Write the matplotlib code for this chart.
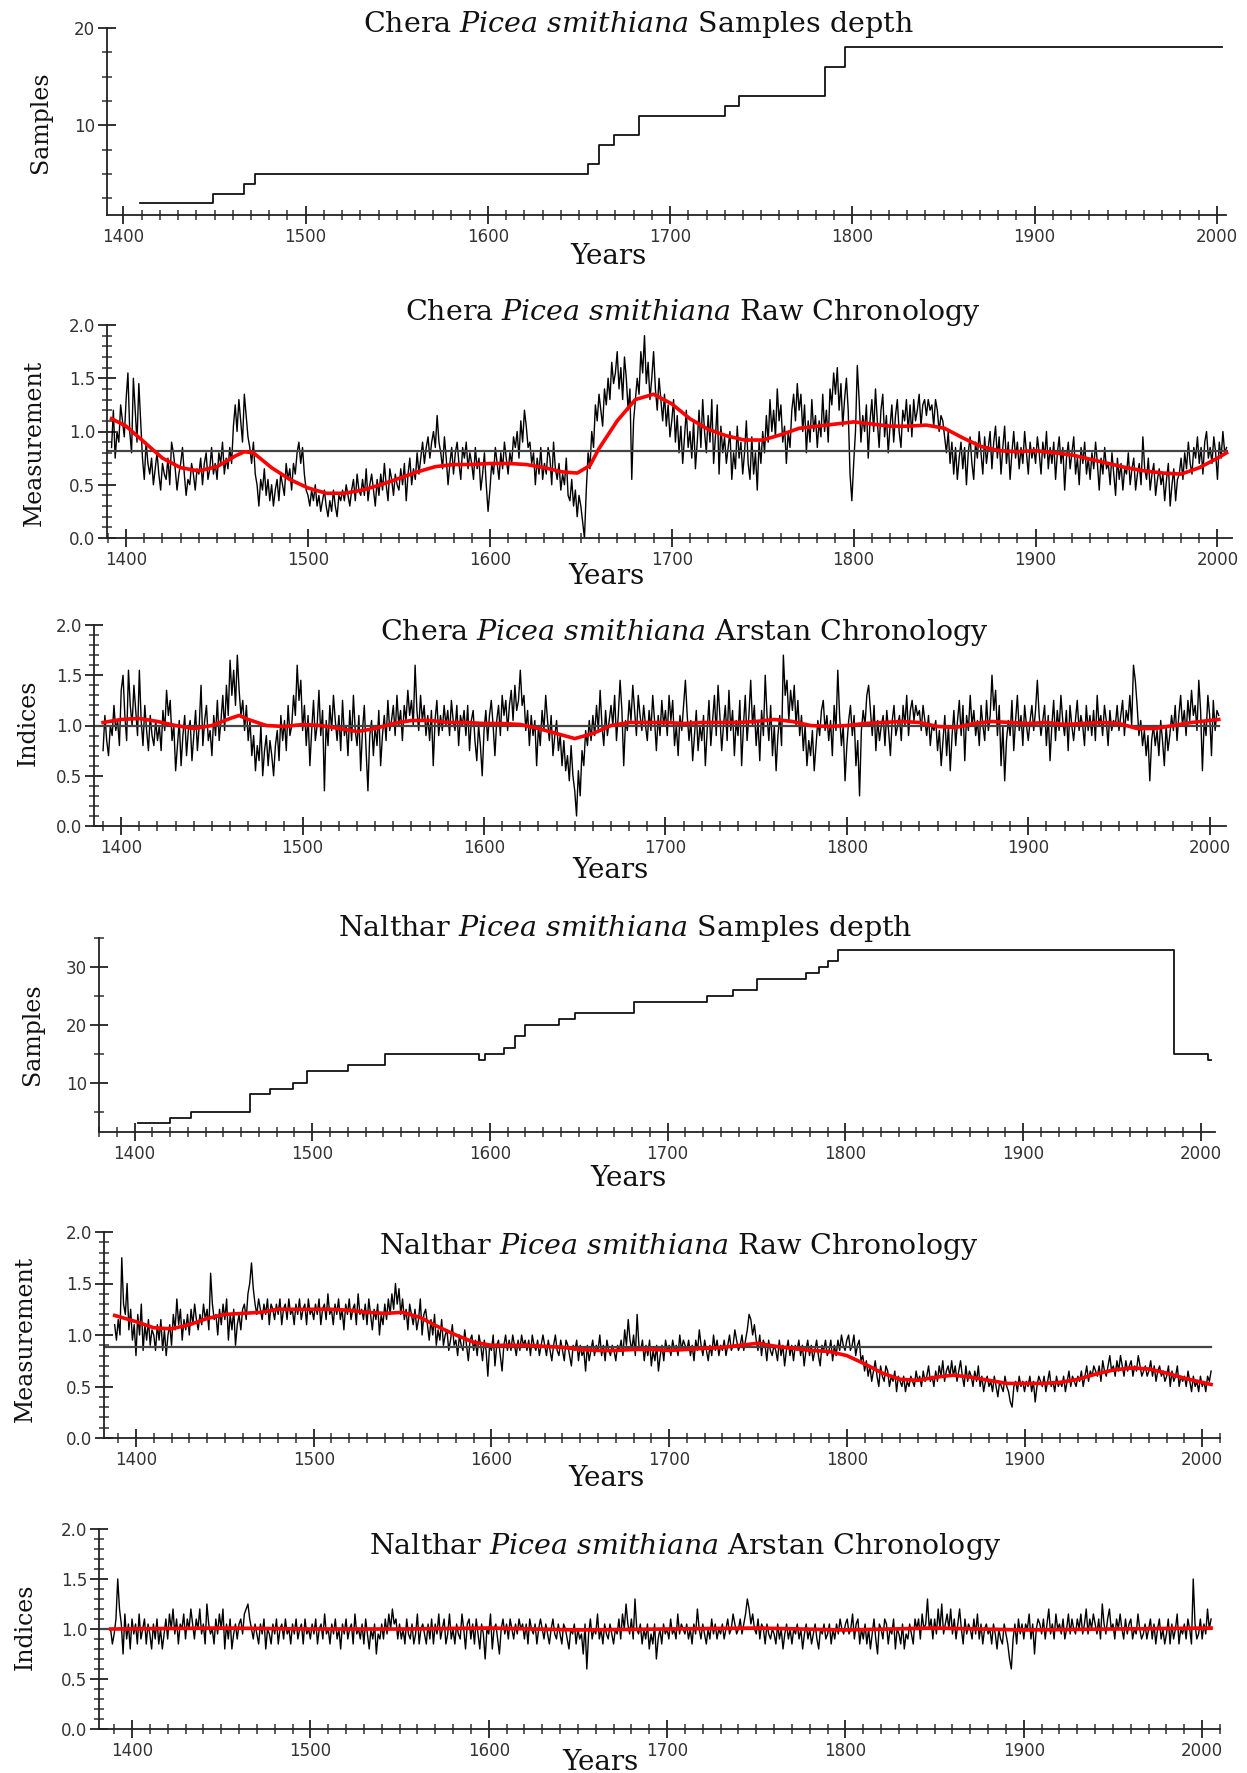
import numpy as np
import matplotlib
matplotlib.use("Agg")
import matplotlib.pyplot as plt
from matplotlib.ticker import MultipleLocator

plt.rcParams['font.family'] = ['DejaVu Sans']
plt.rcParams['mathtext.fontset'] = 'custom'
plt.rcParams['mathtext.rm'] = 'DejaVu Serif'
plt.rcParams['mathtext.it'] = 'DejaVu Serif:italic'

# ---- sample depth (step series) ----
chera_step_years = [1409, 1449, 1466, 1472, 1655, 1661, 1669, 1683, 1730, 1738, 1785, 1796, 2003]
chera_step_vals = [2, 3, 4, 5, 6, 8, 9, 11, 12, 13, 16, 18, 18]

nalthar_step_years = [1402, 1420, 1432, 1465, 1476, 1489, 1497, 1520, 1541, 1594, 1597, 1608, 1614,
                      1620, 1639, 1648, 1681, 1722, 1737, 1750, 1778, 1785, 1790, 1796, 1985, 2004, 2006]
nalthar_step_vals = [3, 4, 5, 8, 9, 10, 12, 13, 15, 14, 15, 16, 18,
                     20, 21, 22, 24, 25, 26, 28, 29, 30, 31, 33, 15, 14, 14]

# ---- Chera raw chronology (1392-2005) ----
chera_raw_years = list(range(1392, 2006))
chera_raw = [
    0.85, 1.2, 0.75, 1.0, 0.9, 1.25, 1.1, 0.95,
    1.3, 1.55, 1.0, 0.8, 1.5, 1.2, 0.9, 1.45, 1.1, 0.75,
    0.55, 0.9, 0.7, 0.6, 0.75, 0.5, 0.65, 0.8, 0.6, 0.45,
    0.7, 0.6, 0.55, 0.75, 0.5, 0.9, 0.8, 0.65, 0.45, 0.6,
    0.7, 0.85, 0.6, 0.4, 0.55, 0.5, 0.7, 0.6, 0.45, 0.65,
    0.6, 0.75, 0.5, 0.7, 0.8, 0.55, 0.65, 0.85, 0.6, 0.7,
    0.55, 0.8, 0.7, 0.9, 0.6, 0.75, 0.65, 0.85, 0.7, 1.05,
    1.25, 1.0, 1.3, 1.1, 0.9, 1.35, 1.15, 0.95, 0.85, 0.7,
    0.9, 0.6, 0.5, 0.3, 0.55, 0.45, 0.65, 0.4, 0.55, 0.35,
    0.5, 0.3, 0.45, 0.55, 0.35, 0.6, 0.5, 0.4, 0.7, 0.55,
    0.65, 0.45, 0.7, 0.6, 0.8, 0.9, 0.7, 0.85, 0.6, 0.45,
    0.4, 0.3, 0.45, 0.35, 0.5, 0.3, 0.4, 0.25, 0.35, 0.45,
    0.3, 0.2, 0.35, 0.25, 0.45, 0.3, 0.2, 0.4, 0.35, 0.45,
    0.35, 0.5, 0.4, 0.3, 0.45, 0.55, 0.35, 0.6, 0.45, 0.4,
    0.55, 0.4, 0.65, 0.35, 0.5, 0.6, 0.45, 0.3, 0.55, 0.4,
    0.6, 0.45, 0.7, 0.5, 0.35, 0.65, 0.55, 0.4, 0.6, 0.5,
    0.45, 0.65, 0.5, 0.7, 0.35, 0.6, 0.75, 0.5, 0.65, 0.55,
    0.8, 0.6, 0.75, 0.9, 0.7, 0.85, 0.95, 0.75, 0.9, 1.0,
    0.85, 1.15, 0.9, 0.8, 0.65, 0.95, 0.75, 0.5, 0.7, 0.85,
    0.6, 0.8, 0.9, 0.7, 0.55, 0.85, 0.75, 0.9, 0.65, 0.8,
    0.7, 0.55, 0.85, 0.65, 0.75, 0.45, 0.6, 0.8, 0.5, 0.25,
    0.45, 0.7, 0.6, 0.85, 0.7, 0.55, 0.8, 0.65, 0.9, 0.75,
    0.6, 0.8, 0.7, 0.95, 0.85, 1.0, 0.75, 1.1, 0.9, 1.2,
    1.05, 0.85, 0.9, 0.7, 0.8, 0.5, 0.75, 0.6, 0.85, 0.55,
    0.7, 0.6, 0.85, 0.75, 0.5, 0.9, 0.65, 0.55, 0.7, 0.45,
    0.6, 0.5, 0.75, 0.4, 0.35, 0.55, 0.3, 0.45, 0.2, 0.4,
    0.3, 0.15, 0.0, 0.45, 0.8, 0.65, 1.0, 0.85, 1.25, 1.1,
    1.35, 1.2, 1.05, 1.4, 1.25, 1.5, 1.3, 1.65, 1.45, 1.55,
    1.75, 1.4, 1.6, 1.3, 1.7, 1.5, 1.2, 1.4, 0.55, 1.1,
    1.3, 1.5, 1.35, 1.75, 1.55, 1.9, 1.45, 1.65, 1.3, 1.5,
    1.75, 1.4, 1.2, 1.5, 1.3, 1.1, 1.35, 1.05, 1.25, 0.95,
    1.1, 1.3, 0.9, 1.15, 0.8, 1.05, 0.7, 0.95, 1.2, 0.85,
    1.0, 0.75, 1.1, 0.65, 0.9, 1.2, 0.85, 1.3, 1.0, 0.8,
    1.15, 0.9, 1.3, 0.7, 0.95, 1.25, 0.6, 1.05, 0.8, 0.95,
    0.7, 0.85, 1.0, 0.55, 0.8, 0.65, 1.05, 0.75, 0.9, 0.6,
    0.8, 1.1, 0.7, 0.55, 0.95, 0.6, 0.8, 0.45, 0.9, 0.7,
    1.0, 0.8, 1.15, 0.9, 1.3, 1.0, 1.2, 0.95, 1.4, 1.1,
    1.25, 0.9, 1.05, 0.7, 1.0, 0.85, 1.2, 1.35, 1.1, 1.45,
    1.2, 1.35, 1.0, 1.25, 0.8, 1.1, 0.9, 1.3, 1.0, 1.15,
    0.85, 1.1, 0.95, 1.35, 1.0, 1.2, 0.9, 1.4, 1.25, 1.55,
    1.35, 1.6, 1.2, 1.45, 1.05, 1.3, 1.5, 1.2, 0.6, 0.35,
    0.7, 1.0, 1.62, 1.3, 0.9, 1.15, 1.0, 1.25, 0.75, 1.1,
    1.3, 1.0, 1.4, 1.1, 0.85, 1.2, 1.35, 0.95, 1.15, 0.8,
    1.05, 1.25, 0.9, 1.15, 1.3, 1.0, 0.85, 1.2, 1.1, 1.3,
    1.0, 1.25, 0.95, 1.3, 1.1, 1.2, 1.35, 1.05, 1.25, 1.3,
    1.15, 1.3, 1.2, 1.25, 1.05, 1.3, 1.2, 1.0, 1.15, 1.1,
    0.95, 0.8, 1.0, 0.7, 0.9, 0.6, 0.85, 0.55, 0.75, 0.9,
    0.65, 0.85, 0.5, 0.8, 0.95, 0.7, 0.55, 0.9, 0.75, 1.0,
    0.8, 0.6, 0.95, 0.7, 0.85, 1.0, 0.65, 0.9, 1.05, 0.75,
    0.95, 0.6, 0.85, 1.05, 0.7, 0.9, 0.55, 0.8, 1.0, 0.75,
    0.9, 0.65, 0.85, 0.7, 1.0, 0.8, 0.6, 0.9, 0.75, 0.85,
    0.7, 0.95, 0.8, 0.6, 0.9, 0.75, 1.0, 0.65, 0.85, 0.7,
    0.9, 0.55, 0.8, 0.95, 0.7, 0.85, 0.45, 0.75, 0.9, 0.65,
    0.8, 0.95, 0.6, 0.75, 0.5, 0.85, 0.7, 0.9, 0.6, 0.75,
    0.55, 0.8, 0.65, 0.9, 0.7, 0.45, 0.75, 0.6, 0.85, 0.65,
    0.7, 0.5, 0.8, 0.6, 0.4, 0.75, 0.55, 0.7, 0.45, 0.65,
    0.6, 0.8, 0.5, 0.65, 0.75, 0.45, 0.6, 0.7, 0.5, 0.95,
    0.65, 0.55, 0.75, 0.45, 0.6, 0.7, 0.4, 0.55, 0.65, 0.5,
    0.6, 0.35, 0.55, 0.7, 0.3, 0.5, 0.65, 0.35, 0.55, 0.6,
    0.75, 0.55, 0.8, 0.65, 0.9, 0.7, 0.6, 0.85, 0.75, 0.95,
    0.7, 0.85, 0.6, 0.9, 1.0, 0.75, 0.85, 0.7, 0.95, 0.8,
    0.55, 0.9, 0.75, 1.0, 0.8, 0.85,
]
chera_raw_mean = 0.82
chera_raw_sm_years = [1392, 1400, 1410, 1420, 1430, 1440, 1450, 1460, 1465, 1470,
                      1480, 1490, 1500, 1510, 1520, 1530, 1540, 1550, 1560, 1570,
                      1580, 1590, 1600, 1610, 1620, 1630, 1640, 1648, 1655, 1660,
                      1670, 1680, 1690, 1700, 1710, 1720, 1730, 1740, 1750, 1760,
                      1770, 1780, 1790, 1800, 1810, 1820, 1830, 1840, 1850, 1860,
                      1870, 1880, 1890, 1900, 1910, 1920, 1930, 1940, 1950, 1960,
                      1970, 1980, 1990, 2000, 2005]
chera_raw_sm = [1.12, 1.05, 0.9, 0.75, 0.66, 0.63, 0.67, 0.77, 0.81, 0.8,
                0.66, 0.55, 0.47, 0.42, 0.42, 0.45, 0.5, 0.56, 0.62, 0.67,
                0.69, 0.69, 0.70, 0.70, 0.69, 0.66, 0.62, 0.61, 0.68, 0.84,
                1.1, 1.3, 1.35, 1.26, 1.12, 1.02, 0.96, 0.92, 0.92, 0.97,
                1.03, 1.05, 1.07, 1.09, 1.07, 1.05, 1.05, 1.06, 1.03, 0.94,
                0.86, 0.82, 0.81, 0.82, 0.80, 0.78, 0.74, 0.70, 0.66, 0.63,
                0.61, 0.60, 0.66, 0.75, 0.80]

# ---- Chera Arstan chronology (1390-2005) ----
chera_ars_years = list(range(1390, 2006))
chera_ars = [
    0.75, 1.1, 0.85, 0.7, 1.0, 0.9, 1.2, 0.95, 1.05, 0.8,
    1.35, 1.5, 1.1, 0.85, 1.55, 1.2, 1.0, 1.4, 1.15, 0.9,
    1.55, 1.05, 0.8, 1.2, 0.95, 0.75, 1.1, 0.9, 0.8, 1.05,
    0.85, 1.0, 0.75, 1.15, 0.95, 1.35, 1.1, 1.25, 0.85, 1.0,
    0.55, 0.8, 1.05, 0.6, 0.9, 1.1, 0.7, 0.95, 1.05, 0.65,
    0.9, 1.15, 0.75, 1.0, 1.4, 0.8, 1.05, 1.2, 0.85, 0.95,
    0.7, 1.1, 0.9, 1.25, 0.85, 1.05, 1.3, 0.95, 1.4, 1.1,
    1.65, 1.3, 1.55, 1.2, 1.7, 1.35, 1.1, 1.25, 0.95, 1.2,
    0.85, 1.05, 0.7, 0.9, 0.55, 0.8, 0.65, 1.0, 0.5, 0.75,
    0.9, 0.6, 0.85, 0.7, 0.5, 0.8, 0.95, 0.65, 1.1, 0.85,
    1.05, 0.75, 1.2, 0.9, 1.0, 1.3, 1.1, 1.6, 1.25, 1.45,
    0.95, 1.2, 0.8, 1.1, 0.6, 0.95, 1.25, 0.85, 1.0, 1.35,
    0.9, 1.15, 0.35, 1.05, 0.8, 1.2, 0.95, 1.3, 1.05, 0.85,
    1.1, 0.75, 1.25, 0.9, 1.0, 0.7, 1.15, 0.85, 1.3, 0.95,
    0.8, 1.1, 0.55, 0.95, 1.2, 0.75, 0.35, 0.9, 1.05, 0.7,
    1.0, 0.8, 1.15, 0.6, 0.9, 1.1, 0.85, 1.25, 0.95, 1.05,
    1.2, 0.9, 1.3, 1.0, 1.15, 0.85, 1.2, 1.05, 1.35, 1.1,
    1.25, 1.0, 1.6, 1.15, 0.95, 1.3, 1.05, 1.2, 0.9, 1.1,
    0.85, 1.15, 0.6, 1.05, 1.25, 0.9, 1.1, 0.95, 1.2, 1.0,
    1.15, 0.9, 1.25, 1.05, 0.95, 1.2, 0.8, 1.1, 1.0, 1.15,
    0.9, 1.2, 0.75, 1.05, 1.15, 0.85, 0.65, 1.0, 0.8, 0.5,
    0.95, 1.15, 0.85, 1.1, 1.25, 1.0, 0.7, 1.05, 1.2, 0.9,
    1.3, 1.1, 1.25, 0.95, 1.2, 1.35, 1.05, 1.4, 1.15, 1.25,
    1.55, 1.2, 1.3, 0.95, 1.15, 0.8, 1.1, 0.9, 1.05, 0.6,
    1.0, 0.8, 1.15, 0.95, 1.3, 1.05, 0.85, 1.1, 0.7, 0.9,
    1.05, 0.75, 0.9, 0.6, 0.85, 0.55, 0.7, 0.45, 0.8, 0.5,
    0.35, 0.1, 0.55, 0.3, 0.75, 0.6, 0.95, 0.8, 1.05, 0.85,
    1.1, 0.9, 1.2, 0.95, 1.35, 1.0, 0.8, 1.15, 0.9, 1.05,
    1.2, 1.0, 1.3, 0.85, 1.1, 1.45, 1.15, 0.6, 1.05, 0.95,
    1.25, 1.05, 1.4, 1.15, 0.9, 1.3, 1.1, 0.95, 1.2, 1.0,
    0.85, 1.15, 0.95, 1.3, 1.05, 0.75, 1.1, 0.9, 1.25, 1.0,
    1.15, 0.9, 1.3, 1.05, 1.25, 0.8, 1.0, 0.7, 1.1, 0.95,
    1.2, 1.45, 1.1, 0.85, 1.05, 0.65, 0.9, 1.15, 0.75, 1.0,
    0.85, 1.1, 0.6, 0.95, 1.25, 0.8, 1.05, 1.3, 0.9, 1.4,
    1.1, 0.75, 1.0, 1.2, 0.85, 1.35, 0.95, 1.15, 0.7, 1.05,
    0.9, 1.25, 0.6, 1.0, 1.3, 0.85, 1.1, 1.45, 1.0, 1.2,
    0.8, 1.05, 0.65, 1.15, 0.9, 1.5, 1.1, 0.85, 1.2, 0.7,
    1.0, 0.55, 0.9, 1.1, 0.8, 1.7, 1.3, 1.45, 1.05, 1.35,
    1.15, 1.4, 1.0, 1.25, 0.9, 1.1, 0.75, 1.0, 0.6, 0.85,
    0.7, 0.95, 0.55, 0.8, 1.05, 0.9, 1.15, 1.25, 0.95, 1.1,
    0.85, 1.05, 0.7, 1.2, 0.95, 1.55, 1.1, 0.8, 1.0, 0.45,
    0.8, 1.05, 1.2, 0.9, 1.1, 0.6, 0.85, 0.3, 0.95, 1.15,
    1.0, 1.3, 1.4, 1.15, 0.9, 1.2, 0.75, 1.05, 0.85, 1.0,
    1.1, 0.8, 1.15, 0.95, 0.7, 1.05, 1.2, 0.9, 1.0, 1.1,
    0.85, 1.2, 1.0, 1.3, 0.9, 1.15, 1.25, 1.05, 1.2, 1.1,
    1.15, 0.95, 1.2, 1.05, 0.9, 1.1, 0.8, 1.0, 0.95, 1.05,
    0.75, 0.95, 0.6, 0.85, 1.1, 0.7, 1.0, 0.55, 0.9, 1.15,
    0.8, 1.05, 1.25, 0.9, 1.2, 0.65, 1.1, 0.95, 1.3, 1.0,
    1.15, 0.9, 1.05, 0.8, 1.2, 1.0, 0.85, 1.25, 0.95, 1.1,
    1.5, 1.15, 1.35, 0.9, 1.2, 0.6, 1.0, 0.45, 0.85, 1.05,
    0.9, 1.25, 0.75, 1.05, 1.3, 0.95, 1.1, 0.8, 1.2, 1.0,
    0.85, 1.05, 1.2, 0.95, 1.15, 1.45, 1.1, 0.9, 1.05, 1.2,
    0.8, 1.1, 0.65, 1.0, 1.25, 0.85, 1.15, 0.95, 1.3, 1.05,
    0.9, 1.15, 0.75, 1.2, 1.0, 0.85, 1.05, 1.25, 0.95, 1.1,
    1.0, 0.8, 1.2, 0.95, 1.1, 0.9, 1.15, 0.85, 1.3, 1.0,
    1.1, 0.9, 1.2, 1.05, 0.8, 1.15, 0.95, 1.05, 1.0, 1.2,
    0.95, 1.1, 1.25, 0.9, 1.15, 1.05, 1.3, 1.0, 1.6, 1.45,
    1.2, 0.9, 1.05, 0.8, 0.95, 0.7, 0.9, 0.45, 0.85, 1.0,
    0.8, 0.95, 0.7, 1.05, 0.85, 0.6, 1.0, 0.75, 0.9, 1.1,
    0.95, 1.2, 0.85, 1.1, 1.3, 1.0, 1.15, 0.9, 1.25, 1.05,
    1.35, 1.1, 1.2, 0.95, 1.45, 1.15, 0.55, 1.05, 0.9, 1.3,
    1.1, 0.7, 1.25, 0.95, 1.15, 1.1,
]
chera_ars_sm_years = [1390, 1400, 1410, 1420, 1430, 1440, 1450, 1460, 1465, 1470,
                      1480, 1490, 1500, 1510, 1520, 1530, 1540, 1550, 1560, 1570,
                      1580, 1590, 1600, 1610, 1620, 1630, 1640, 1650, 1660, 1670,
                      1680, 1690, 1700, 1710, 1720, 1730, 1740, 1750, 1760, 1770,
                      1780, 1790, 1800, 1810, 1820, 1830, 1840, 1850, 1860, 1870,
                      1880, 1890, 1900, 1910, 1920, 1930, 1940, 1950, 1960, 1970,
                      1980, 1990, 2000, 2005]
chera_ars_sm = [1.03, 1.06, 1.07, 1.04, 1.0, 0.97, 1.0, 1.07, 1.1, 1.06,
                1.0, 0.99, 1.01, 1.0, 0.97, 0.94, 0.97, 1.02, 1.05, 1.05,
                1.03, 1.03, 1.02, 1.02, 1.01, 0.97, 0.92, 0.87, 0.92, 1.0,
                1.03, 1.03, 1.03, 1.02, 1.03, 1.03, 1.03, 1.04, 1.06, 1.04,
                1.0, 0.99, 1.0, 1.02, 1.03, 1.04, 1.03, 0.99, 0.98, 1.02,
                1.04, 1.03, 1.02, 1.03, 1.01, 1.02, 1.03, 1.02, 0.97, 0.97,
                1.0, 1.03, 1.05, 1.06]

# ---- Nalthar raw chronology (1388-2005) ----
nalthar_raw_years = list(range(1388, 2006))
nalthar_raw = [
    1.1, 0.95,
    1.15, 1.0, 1.75, 1.3, 1.2, 1.5, 1.05, 1.25, 0.95, 1.1,
    0.8, 1.2, 1.0, 1.3, 0.85, 1.1, 0.95, 1.15, 0.9, 1.05,
    1.0, 0.85, 1.1, 0.95, 1.15, 0.85, 1.05, 0.8, 1.0, 1.1,
    0.9, 1.2, 1.05, 1.35, 1.1, 1.25, 0.95, 1.15, 1.05, 1.2,
    1.0, 1.25, 1.1, 1.3, 1.15, 1.05, 1.2, 1.1, 1.3, 1.15,
    1.25, 1.05, 1.6, 1.3, 1.15, 1.2, 1.0, 1.25, 1.1, 1.3,
    1.15, 1.35, 0.95, 1.2, 1.05, 1.25, 0.9, 1.1, 1.2, 1.05,
    1.25, 1.3, 1.15, 1.4, 1.5, 1.7, 1.45, 1.3, 1.2, 1.35,
    1.25, 1.15, 1.3, 1.2, 1.35, 1.1, 1.3, 1.25, 1.15, 1.3,
    1.2, 1.35, 1.1, 1.25, 1.3, 1.15, 1.35, 1.2, 1.25, 1.1,
    1.3, 1.2, 1.35, 1.15, 1.25, 1.3, 1.1, 1.35, 1.2, 1.25,
    1.15, 1.3, 1.2, 1.35, 1.1, 1.25, 1.3, 1.15, 1.4, 1.2,
    1.25, 1.1, 1.3, 1.2, 1.35, 1.15, 1.25, 1.05, 1.3, 1.2,
    1.35, 1.15, 1.25, 1.3, 1.1, 1.4, 1.2, 1.25, 1.15, 1.3,
    1.1, 1.35, 1.2, 1.05, 1.25, 1.15, 1.3, 1.0, 1.2, 1.1,
    1.3, 1.15, 1.35, 1.2, 1.4, 1.25, 1.5, 1.3, 1.45, 1.2,
    1.35, 1.15, 1.25, 1.05, 1.3, 1.2, 1.1, 1.25, 1.05, 1.15,
    1.35, 1.0, 1.2, 1.25, 1.1, 0.95, 1.15, 1.0, 1.2, 0.9,
    1.05, 0.95, 1.15, 0.9, 1.0, 1.05, 0.85, 0.95, 1.1, 0.9,
    0.95, 0.8, 1.0, 0.9, 0.85, 1.05, 0.9, 0.75, 0.95, 1.0,
    0.85, 0.95, 0.8, 1.0, 0.9, 0.75, 0.95, 0.85, 0.6, 0.9,
    0.85, 1.0, 0.7, 0.9, 0.95, 0.8, 0.65, 0.9, 1.0, 0.85,
    0.95, 0.85, 1.0, 0.9, 0.8, 0.95, 0.85, 1.0, 0.9, 0.95,
    0.85, 0.95, 0.8, 1.0, 0.9, 0.85, 0.95, 0.8, 0.9, 1.0,
    0.9, 0.8, 0.95, 0.85, 0.75, 0.9, 1.0, 0.85, 0.8, 0.95,
    0.85, 0.75, 0.95, 0.9, 0.8, 0.7, 0.9, 0.85, 0.95, 0.75,
    0.9, 0.8, 0.85, 0.65, 0.9, 0.75, 0.85, 0.95, 0.8, 0.9,
    0.85, 1.0, 0.8, 0.9, 0.75, 0.95, 0.85, 0.8, 0.9, 0.85,
    0.75, 0.9, 0.85, 0.95, 0.8, 1.05, 0.9, 1.15, 0.95, 0.85,
    1.0, 0.8, 1.2, 0.9, 0.85, 0.95, 0.75, 0.9, 0.8, 0.95,
    0.7, 0.85, 0.75, 0.9, 0.65, 0.8, 0.9, 0.75, 0.95, 0.85,
    0.9, 0.8, 0.95, 0.85, 0.9, 0.8, 1.0, 0.85, 0.95, 0.9,
    0.85, 0.95, 0.8, 0.9, 0.75, 0.95, 0.85, 1.05, 0.9, 0.8,
    0.95, 0.85, 0.75, 0.9, 0.8, 1.0, 0.85, 0.95, 0.8, 0.9,
    0.85, 0.95, 0.8, 0.9, 1.0, 0.85, 0.9, 1.05, 0.95, 0.85,
    0.9, 1.0, 0.85, 0.95, 1.05, 1.2, 1.15, 1.0, 1.1, 0.95,
    0.85, 1.0, 0.8, 0.95, 0.9, 0.75, 0.95, 0.85, 0.8, 0.9,
    0.85, 0.75, 0.95, 0.8, 0.9, 0.7, 0.85, 0.95, 0.8, 0.9,
    0.75, 0.9, 0.85, 0.95, 0.8, 0.9, 0.7, 0.85, 0.95, 0.8,
    0.9, 0.75, 0.85, 0.95, 0.8, 0.7, 0.9, 0.85, 0.95, 0.8,
    0.85, 0.95, 0.75, 0.9, 0.8, 0.95, 0.85, 1.0, 0.9, 0.85,
    0.95, 1.0, 0.85, 0.9, 1.0, 0.8, 0.9, 0.95, 0.75, 0.8,
    0.65, 0.75, 0.6, 0.7, 0.55, 0.65, 0.75, 0.6, 0.5, 0.7,
    0.6, 0.55, 0.7, 0.65, 0.5, 0.6, 0.55, 0.65, 0.45, 0.6,
    0.55, 0.5, 0.6, 0.45, 0.55, 0.5, 0.6, 0.55, 0.5, 0.65,
    0.55, 0.6, 0.5, 0.65, 0.55, 0.6, 0.7, 0.55, 0.6, 0.5,
    0.65, 0.55, 0.7, 0.6, 0.75, 0.55, 0.65, 0.7, 0.6, 0.75,
    0.6, 0.7, 0.55, 0.65, 0.75, 0.6, 0.5, 0.7, 0.55, 0.65,
    0.6, 0.5, 0.65, 0.55, 0.7, 0.5, 0.6, 0.45, 0.55, 0.6,
    0.5, 0.55, 0.45, 0.6, 0.5, 0.4, 0.55, 0.5, 0.45, 0.6,
    0.5, 0.45, 0.35, 0.3, 0.5, 0.55, 0.45, 0.6, 0.5, 0.55,
    0.45, 0.55, 0.5, 0.6, 0.45, 0.55, 0.35, 0.5, 0.6, 0.55,
    0.5, 0.6, 0.45, 0.55, 0.65, 0.5, 0.55, 0.45, 0.6, 0.5,
    0.55, 0.5, 0.6, 0.45, 0.55, 0.65, 0.5, 0.6, 0.55, 0.5,
    0.6, 0.55, 0.65, 0.5, 0.6, 0.7, 0.55, 0.65, 0.6, 0.7,
    0.65, 0.6, 0.7, 0.55, 0.75, 0.65, 0.6, 0.7, 0.8, 0.65,
    0.7, 0.6, 0.75, 0.65, 0.8, 0.7, 0.6, 0.75, 0.65, 0.7,
    0.75, 0.6, 0.7, 0.65, 0.8, 0.7, 0.6, 0.65, 0.7, 0.6,
    0.65, 0.75, 0.6, 0.7, 0.55, 0.65, 0.7, 0.6, 0.65, 0.55,
    0.6, 0.7, 0.5, 0.65, 0.55, 0.6, 0.7, 0.5, 0.6, 0.55,
    0.6, 0.5, 0.65, 0.55, 0.45, 0.6, 0.5, 0.55, 0.45, 0.6,
    0.5, 0.55, 0.45, 0.6, 0.55, 0.65,
]
nalthar_raw_mean = 0.88
nalthar_raw_sm_years = [1388, 1400, 1410, 1420, 1430, 1440, 1450, 1460, 1470, 1480,
                        1490, 1500, 1510, 1520, 1530, 1540, 1550, 1560, 1570, 1580,
                        1590, 1600, 1610, 1620, 1630, 1640, 1650, 1660, 1670, 1680,
                        1690, 1700, 1710, 1720, 1730, 1740, 1750, 1760, 1770, 1780,
                        1790, 1800, 1810, 1820, 1830, 1840, 1850, 1860, 1870, 1880,
                        1890, 1900, 1910, 1920, 1930, 1940, 1950, 1960, 1970, 1980,
                        1990, 2000, 2005]
nalthar_raw_sm = [1.19, 1.13, 1.07, 1.06, 1.1, 1.16, 1.2, 1.21, 1.22, 1.25,
                  1.25, 1.25, 1.25, 1.24, 1.22, 1.21, 1.22, 1.17, 1.08, 1.0,
                  0.93, 0.9, 0.9, 0.9, 0.89, 0.88, 0.86, 0.85, 0.85, 0.86,
                  0.86, 0.85, 0.86, 0.87, 0.88, 0.9, 0.92, 0.89, 0.87, 0.85,
                  0.84, 0.8, 0.72, 0.63, 0.57, 0.56, 0.59, 0.61, 0.59, 0.56,
                  0.53, 0.53, 0.53, 0.54, 0.57, 0.62, 0.66, 0.68, 0.67, 0.63,
                  0.58, 0.54, 0.52]

# ---- Nalthar Arstan chronology (1388-2005) ----
nalthar_ars_years = list(range(1388, 2006))
nalthar_ars = [
    1.0, 0.85,
    0.95, 1.1, 1.5, 1.2, 1.05, 0.75, 1.15, 0.9, 1.05, 0.8,
    1.1, 0.95, 1.05, 0.85, 1.15, 0.9, 1.0, 1.1, 0.85, 1.05,
    0.95, 0.8, 1.05, 0.9, 1.1, 0.85, 1.0, 0.8, 0.95, 1.1,
    0.9, 1.15, 1.0, 1.2, 0.95, 1.1, 0.85, 1.05, 1.0, 1.15,
    0.9, 1.1, 1.0, 1.2, 1.05, 0.9, 1.1, 1.0, 1.2, 0.95,
    1.05, 0.85, 1.25, 1.05, 0.95, 1.0, 0.85, 1.1, 0.95, 1.15,
    1.0, 1.2, 0.8, 1.05, 0.9, 1.1, 0.8, 0.95, 1.05, 0.9,
    1.05, 1.1, 0.95, 1.15, 1.2, 1.25, 1.1, 1.0, 0.9, 1.05,
    0.95, 0.85, 1.05, 0.95, 1.1, 0.8, 1.0, 0.95, 0.85, 1.05,
    0.95, 1.1, 0.85, 1.0, 1.05, 0.9, 1.1, 0.95, 1.0, 0.85,
    1.05, 0.95, 1.1, 0.9, 1.0, 1.05, 0.85, 1.1, 0.95, 1.0,
    0.9, 1.05, 0.95, 1.1, 0.85, 1.0, 1.05, 0.9, 1.15, 0.95,
    1.0, 0.85, 1.05, 0.95, 1.1, 0.9, 1.0, 0.8, 1.05, 0.95,
    1.1, 0.9, 1.0, 1.05, 0.85, 1.15, 0.95, 1.0, 0.9, 1.05,
    0.85, 1.1, 0.95, 0.8, 1.0, 0.9, 1.05, 0.75, 0.95, 0.9,
    1.05, 0.9, 1.1, 0.95, 1.15, 1.0, 1.2, 1.05, 1.1, 0.9,
    1.05, 0.9, 1.0, 0.85, 1.1, 0.95, 0.9, 1.05, 0.85, 0.95,
    1.15, 0.85, 1.0, 1.05, 0.95, 0.85, 1.05, 0.9, 1.1, 0.85,
    1.05, 0.95, 1.15, 0.9, 1.0, 1.1, 0.85, 0.95, 1.15, 0.9,
    1.0, 0.85, 1.05, 0.95, 0.9, 1.15, 1.0, 0.8, 1.05, 1.1,
    0.9, 1.05, 0.85, 1.1, 0.95, 0.8, 1.05, 0.95, 0.7, 1.0,
    0.95, 1.15, 0.8, 1.0, 1.05, 0.9, 0.75, 1.0, 1.1, 0.95,
    1.05, 0.9, 1.1, 1.0, 0.9, 1.05, 0.95, 1.1, 1.0, 1.05,
    0.9, 1.05, 0.85, 1.1, 1.0, 0.95, 1.05, 0.85, 1.0, 1.1,
    1.0, 0.9, 1.05, 0.95, 0.85, 1.0, 1.1, 0.95, 0.9, 1.05,
    0.95, 0.85, 1.05, 1.0, 0.9, 0.8, 1.0, 0.95, 1.05, 0.85,
    1.0, 0.9, 0.95, 0.75, 1.05, 0.6, 0.95, 1.1, 0.9, 1.0,
    0.95, 1.15, 0.9, 1.0, 0.85, 1.05, 0.95, 0.9, 1.05, 0.95,
    0.85, 1.0, 0.95, 1.1, 0.9, 1.15, 1.0, 1.25, 1.05, 0.95,
    1.1, 0.9, 1.3, 1.0, 0.95, 1.05, 0.85, 1.0, 0.9, 1.05,
    0.8, 0.95, 0.85, 1.05, 0.7, 0.9, 1.0, 0.85, 1.05, 0.95,
    1.0, 0.9, 1.1, 0.95, 1.0, 0.9, 1.15, 0.95, 1.05, 1.0,
    0.95, 1.05, 0.9, 1.0, 0.85, 1.05, 0.95, 1.2, 1.0, 0.9,
    1.05, 0.95, 0.85, 1.0, 0.9, 1.1, 0.95, 1.05, 0.9, 1.0,
    0.95, 1.05, 0.9, 1.0, 1.1, 0.95, 1.0, 1.15, 1.05, 0.95,
    1.0, 1.1, 0.95, 1.05, 1.15, 1.3, 1.2, 1.05, 1.15, 1.0,
    0.95, 1.1, 0.9, 1.05, 1.0, 0.85, 1.05, 0.95, 0.9, 1.0,
    0.95, 0.85, 1.05, 0.9, 1.0, 0.8, 0.95, 1.05, 0.9, 1.0,
    0.85, 1.0, 0.95, 1.05, 0.9, 1.0, 0.8, 0.95, 1.05, 0.9,
    1.0, 0.85, 0.95, 1.05, 0.9, 0.8, 1.0, 0.95, 1.05, 0.9,
    0.95, 1.05, 0.85, 1.0, 0.9, 1.05, 0.95, 1.1, 1.0, 0.95,
    1.05, 1.1, 0.95, 1.0, 1.15, 0.9, 1.05, 1.1, 0.85, 1.0,
    0.9, 1.05, 0.85, 1.0, 0.8, 0.95, 1.1, 0.9, 0.75, 1.05,
    1.0, 0.9, 1.1, 1.05, 0.85, 1.0, 0.95, 1.1, 0.8, 1.0,
    0.95, 0.85, 1.05, 0.8, 0.95, 0.9, 1.05, 0.95, 0.85, 1.1,
    1.0, 1.1, 0.9, 1.15, 1.0, 1.05, 1.3, 1.0, 1.1, 0.9,
    1.1, 0.95, 1.2, 1.0, 1.25, 0.95, 1.05, 1.15, 1.0, 1.2,
    0.95, 1.1, 0.9, 1.05, 1.2, 1.0, 0.85, 1.1, 0.95, 1.05,
    1.0, 0.9, 1.1, 0.95, 1.15, 0.9, 1.05, 0.85, 1.0, 1.05,
    0.95, 1.0, 0.85, 1.05, 0.95, 0.8, 1.0, 0.9, 0.85, 1.05,
    0.95, 0.85, 0.7, 0.6, 0.9, 1.05, 0.85, 1.1, 0.95, 1.05,
    0.9, 1.05, 1.0, 1.15, 0.9, 1.05, 0.75, 1.0, 1.1, 1.05,
    0.95, 1.1, 0.9, 1.05, 1.2, 0.95, 1.05, 0.9, 1.15, 1.0,
    1.05, 0.95, 1.1, 0.9, 1.0, 1.15, 0.95, 1.1, 1.0, 0.95,
    1.1, 1.0, 1.15, 0.95, 1.05, 1.2, 0.95, 1.1, 1.0, 1.15,
    1.05, 0.95, 1.1, 0.9, 1.25, 1.05, 0.95, 1.1, 1.2, 1.0,
    1.05, 0.9, 1.1, 1.0, 1.15, 1.0, 0.9, 1.1, 0.95, 1.05,
    1.1, 0.9, 1.0, 0.95, 1.15, 1.0, 0.9, 0.95, 1.05, 0.9,
    1.0, 1.1, 0.9, 1.05, 0.85, 1.0, 1.1, 0.9, 1.0, 0.85,
    0.95, 1.1, 0.85, 1.05, 0.9, 1.0, 1.15, 0.85, 1.0, 0.95,
    1.05, 0.9, 1.1, 1.0, 0.85, 1.5, 1.05, 0.9, 0.95, 1.1,
    0.9, 1.05, 0.95, 1.2, 1.0, 1.1,
]
nalthar_ars_sm_years = [1388, 1450, 1500, 1550, 1600, 1650, 1700, 1750, 1800, 1850, 1900, 1950, 2005]
nalthar_ars_sm = [1.0, 1.01, 1.0, 1.0, 1.01, 0.99, 1.0, 1.01, 0.99, 1.01, 0.99, 1.0, 1.01]

# ---- figure ----
W, H = 1247, 1773
fig = plt.figure(figsize=(W / 100, H / 100), dpi=100)
fig.patch.set_facecolor('white')


def box(l, t, r, b):
    # pixel box -> figure fraction
    return [l / W, 1 - b / H, (r - l) / W, (b - t) / H]


def style_axes(ax, xlim, ylim, ymaj, ymin, yfmt):
    ax.set_xlim(*xlim)
    ax.set_ylim(*ylim)
    for s in ['top', 'right']:
        ax.spines[s].set_visible(False)
    for s in ['left', 'bottom']:
        ax.spines[s].set_linewidth(1.3)
        ax.spines[s].set_color('#222222')
    ax.xaxis.set_major_locator(MultipleLocator(100))
    ax.xaxis.set_minor_locator(MultipleLocator(10))
    ax.yaxis.set_major_locator(MultipleLocator(ymaj))
    ax.yaxis.set_minor_locator(MultipleLocator(ymin))
    ax.tick_params(which='major', direction='inout', length=13, width=1.3, color='#222222',
                   labelsize=12, labelcolor='#333333')
    ax.tick_params(which='minor', direction='inout', length=7, width=1.1, color='#333333')
    ax.tick_params(axis='x', which='major', pad=3)
    ax.tick_params(axis='y', which='major', pad=2)
    ax.yaxis.set_major_formatter(plt.FormatStrFormatter(yfmt))
    ax.patch.set_alpha(0)


serif = 'DejaVu Serif'


def label(x, y, s, size=20, rot=0):
    fig.text(x / W, 1 - y / H, s, ha='center', va='center', fontsize=size,
             family=serif, rotation=rot, color='#111111')


# panel 1: Chera samples depth
ax1 = fig.add_axes(box(107, 28, 1226, 215))
ax1.step(chera_step_years, chera_step_vals, where='post', color='#111111', lw=1.3)
style_axes(ax1, (1391, 2005), (0.8, 20), 10, 2.5, '%d')
label(638, 25, r"Chera $\mathit{Picea\ smithiana}$ Samples depth", 20.5)
label(608, 257, "Years", 20)
label(40, 122, "Samples", 17, 90)

# panel 2: Chera raw chronology
ax2 = fig.add_axes(box(107, 325, 1232, 538))
ax2.plot(chera_raw_years, chera_raw, color='black', lw=1.0)
ax2.plot([1390, chera_raw_years[-1]], [chera_raw_mean, chera_raw_mean], color='#444444', lw=1.6)
ax2.plot(chera_raw_sm_years, chera_raw_sm, color='#ff0000', lw=2.6)
style_axes(ax2, (1389.5, 2008), (0, 2.0), 0.5, 0.1, '%.1f')
label(693, 312, r"Chera $\mathit{Picea\ smithiana}$ Raw Chronology", 20.5)
label(606, 576, "Years", 20)
label(34, 443, "Measurement", 17, 90)

# panel 3: Chera Arstan chronology
ax3 = fig.add_axes(box(94, 625, 1226, 826))
ax3.plot(chera_ars_years, chera_ars, color='black', lw=1.0)
ax3.plot([1383, chera_ars_years[-1]], [1.0, 1.0], color='#444444', lw=1.6)
ax3.plot(chera_ars_sm_years, chera_ars_sm, color='#ff0000', lw=2.6)
style_axes(ax3, (1385, 2009), (0, 2.0), 0.5, 0.1, '%.1f')
label(684, 632, r"Chera $\mathit{Picea\ smithiana}$ Arstan Chronology", 20.5)
label(610, 871, "Years", 20)
label(28, 723, "Indices", 17, 90)

# panel 4: Nalthar samples depth
ax4 = fig.add_axes(box(99, 938, 1215, 1132))
ax4.step(nalthar_step_years, nalthar_step_vals, where='post', color='#111111', lw=1.3)
style_axes(ax4, (1380, 2008), (1.5, 35), 10, 5, '%d')
label(625, 929, r"Nalthar $\mathit{Picea\ smithiana}$ Samples depth", 20.5)
label(628, 1178, "Years", 20)
label(32, 1034, "Samples", 17, 90)

# panel 5: Nalthar raw chronology
ax5 = fig.add_axes(box(104, 1232, 1220, 1438))
ax5.plot(nalthar_raw_years, nalthar_raw, color='black', lw=1.0)
ax5.plot([1382, nalthar_raw_years[-1]], [nalthar_raw_mean, nalthar_raw_mean], color='#444444', lw=1.6)
ax5.plot(nalthar_raw_sm_years, nalthar_raw_sm, color='#ff0000', lw=2.6)
style_axes(ax5, (1382, 2010), (0, 2.0), 0.5, 0.1, '%.1f')
label(679, 1246, r"Nalthar $\mathit{Picea\ smithiana}$ Raw Chronology", 20.5)
label(606, 1479, "Years", 20)
label(25, 1339, "Measurement", 17, 90)

# panel 6: Nalthar Arstan chronology
ax6 = fig.add_axes(box(99, 1529, 1220, 1729))
ax6.plot(nalthar_ars_years, nalthar_ars, color='black', lw=1.0)
ax6.plot([1382, nalthar_ars_years[-1]], [1.0, 1.0], color='#444444', lw=1.6)
ax6.plot(nalthar_ars_sm_years, nalthar_ars_sm, color='#ff0000', lw=2.6)
style_axes(ax6, (1381.5, 2010), (0, 2.0), 0.5, 0.1, '%.1f')
label(685, 1546, r"Nalthar $\mathit{Picea\ smithiana}$ Arstan Chronology", 20.5)
label(600, 1762, "Years", 20)
label(25, 1627, "Indices", 17, 90)

fig.savefig('out.png', dpi=100, facecolor='white')
